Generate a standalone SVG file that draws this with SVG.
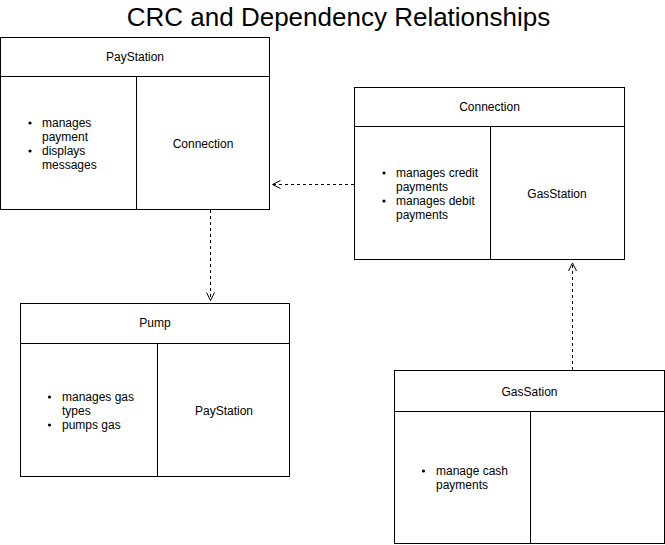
<svg xmlns="http://www.w3.org/2000/svg" width="665" height="545" viewBox="0 0 665 545">
<defs>
<style>
.box{fill:#fff;stroke:#000;stroke-width:1}
.ln{stroke:#000;stroke-width:1;fill:none}
text{font-family:"Liberation Sans",Arial,Helvetica,sans-serif;font-size:12px;fill:#000}
.c{text-anchor:middle}
.title{font-size:26px;text-anchor:middle}
.dash{stroke:#000;stroke-width:1;fill:none;stroke-dasharray:3 3}
</style>
<marker id="open" viewBox="0 0 10 10" refX="9" refY="5" markerWidth="10" markerHeight="10" markerUnits="userSpaceOnUse" orient="auto">
<path d="M1,1 L9,5 L1,9" fill="none" stroke="#000" stroke-width="1"/>
</marker>
</defs>
<rect width="665" height="545" fill="#fff"/>
<text class="title" x="338.5" y="26">CRC and Dependency Relationships</text>

<g id="paystation">
<rect class="box" x="0.5" y="37.5" width="269" height="172"/>
<line class="ln" x1="0.5" y1="76.5" x2="269.5" y2="76.5"/>
<line class="ln" x1="136.5" y1="76.5" x2="136.5" y2="209.5"/>
<text class="c" x="135" y="61">PayStation</text>
<circle cx="30" cy="123" r="1.6"/>
<circle cx="30" cy="151" r="1.6"/>
<text x="42" y="127">manages</text>
<text x="42" y="141">payment</text>
<text x="42" y="155">displays</text>
<text x="42" y="169">messages</text>
<text class="c" x="203" y="148">Connection</text>
</g>

<g id="connection">
<rect class="box" x="354.5" y="87.5" width="270" height="172"/>
<line class="ln" x1="354.5" y1="126.5" x2="624.5" y2="126.5"/>
<line class="ln" x1="490.5" y1="126.5" x2="490.5" y2="259.5"/>
<text class="c" x="489.5" y="111">Connection</text>
<circle cx="384" cy="173" r="1.6"/>
<circle cx="384" cy="201" r="1.6"/>
<text x="396" y="177">manages credit</text>
<text x="396" y="191">payments</text>
<text x="396" y="205">manages debit</text>
<text x="396" y="219">payments</text>
<text class="c" x="557" y="198">GasStation</text>
</g>

<g id="pump">
<rect class="box" x="20.5" y="303.5" width="269" height="173"/>
<line class="ln" x1="20.5" y1="343.5" x2="289.5" y2="343.5"/>
<line class="ln" x1="157.5" y1="343.5" x2="157.5" y2="476.5"/>
<text class="c" x="155" y="327">Pump</text>
<circle cx="49.5" cy="397" r="1.6"/>
<circle cx="49.5" cy="425" r="1.6"/>
<text x="62" y="401">manages gas</text>
<text x="62" y="415">types</text>
<text x="62" y="429">pumps gas</text>
<text class="c" x="224" y="415">PayStation</text>
</g>

<g id="gassation">
<rect class="box" x="394.5" y="370.5" width="270" height="173"/>
<line class="ln" x1="394.5" y1="411.5" x2="664.5" y2="411.5"/>
<line class="ln" x1="530.5" y1="411.5" x2="530.5" y2="543.5"/>
<text class="c" x="529.5" y="396">GasSation</text>
<circle cx="423.5" cy="471" r="1.6"/>
<text x="436" y="475">manage cash</text>
<text x="436" y="489">payments</text>
</g>

<g id="connectors">
<line class="dash" x1="210.5" y1="210" x2="210.5" y2="300.5" marker-end="url(#open)"/>
<line class="dash" x1="354" y1="184.5" x2="272.5" y2="184.5" marker-end="url(#open)"/>
<line class="dash" x1="572.5" y1="370" x2="572.5" y2="263" marker-end="url(#open)"/>
</g>
</svg>
